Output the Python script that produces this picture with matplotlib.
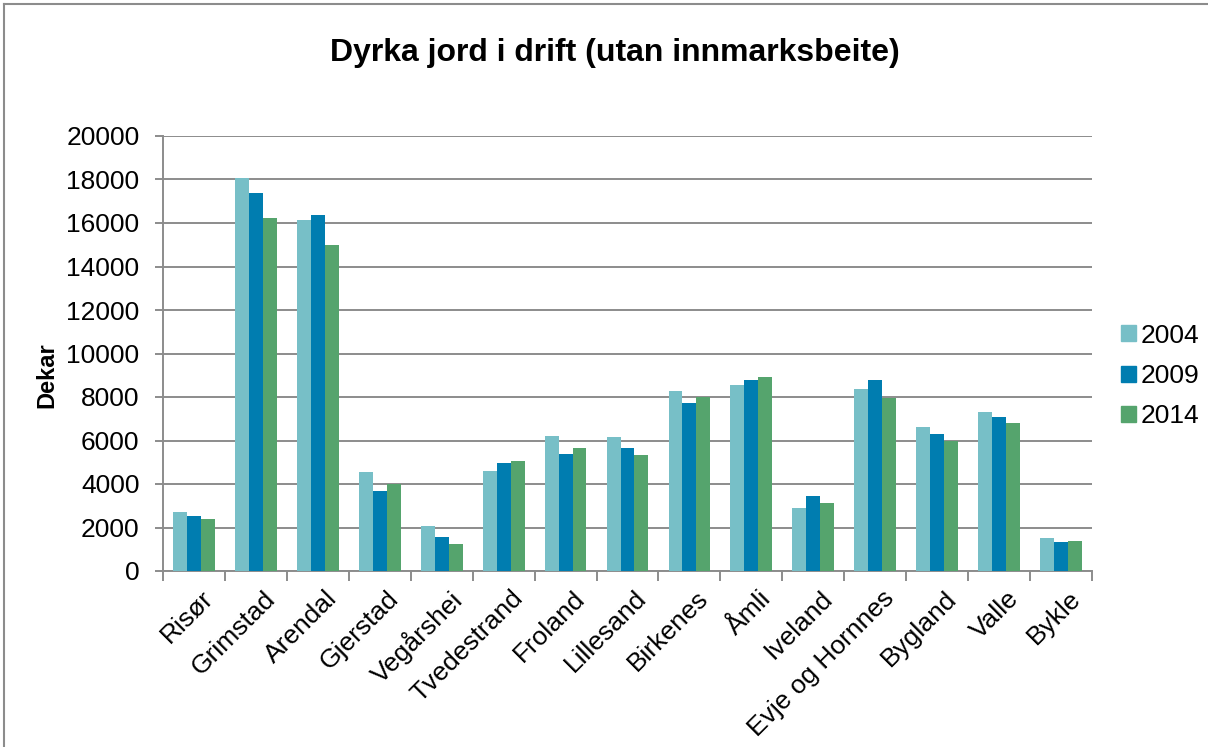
import matplotlib
matplotlib.use("Agg")
import matplotlib.pyplot as plt
import matplotlib.transforms as mtransforms
import numpy as np
from matplotlib.lines import Line2D

plt.rcParams['font.family'] = ['Liberation Sans', 'DejaVu Sans']

categories = ["Risør", "Grimstad", "Arendal", "Gjerstad", "Vegårshei", "Tvedestrand",
              "Froland", "Lillesand", "Birkenes", "Åmli", "Iveland", "Evje og Hornnes",
              "Bygland", "Valle", "Bykle"]
years = ["2004", "2009", "2014"]
v2004 = [2690, 18080, 16160, 4560, 2070, 4610, 6210, 6180, 8290, 8570, 2900, 8360, 6640, 7330, 1510]
v2009 = [2530, 17390, 16370, 3690, 1570, 4960, 5380, 5650, 7740, 8790, 3440, 8760, 6280, 7100, 1320]
v2014 = [2380, 16220, 15010, 4020, 1230, 5070, 5670, 5330, 7990, 8920, 3120, 7960, 5990, 6790, 1380]
colors = ["#77BFC7", "#007DB0", "#55A46D"]

fig = plt.figure(figsize=(12.08, 7.47), dpi=100)
ax = fig.add_axes([163/1208, 1 - 571/747, (1092-163)/1208, (571-136)/747])

x = np.arange(len(categories))
w = 0.225
for i, (vals, c, lab) in enumerate(zip([v2004, v2009, v2014], colors, years)):
    ax.bar(x + (i - 1) * w, vals, width=w, color=c, label=lab, zorder=3)

ax.set_xlim(-0.5, len(categories) - 0.5)
ax.set_ylim(0, 20000)
ax.set_yticks(np.arange(0, 20001, 2000))
ax.yaxis.grid(True, color="#8c8c8c", linewidth=1.4, zorder=0)
ax.set_axisbelow(True)
for s in ["top", "right"]:
    ax.spines[s].set_visible(False)
for s in ["left", "bottom"]:
    ax.spines[s].set_color("#8c8c8c")
    ax.spines[s].set_linewidth(1.4)
ax.tick_params(axis="y", length=6, width=1.4, color="#8c8c8c", labelsize=19, pad=11)
ax.set_xticks(np.arange(-0.5, len(categories)), minor=False)
ax.set_xticklabels([])
ax.set_xticks(x, minor=True)
ax.set_xticklabels(categories, minor=True, rotation=45, ha="right", rotation_mode="anchor", fontsize=19)
ax.tick_params(axis="x", which="major", length=7, width=1.4, color="#8c8c8c")
ax.tick_params(axis="x", which="minor", length=0, pad=11)
offset = mtransforms.ScaledTranslation(7/100, 0, fig.dpi_scale_trans)
for lbl in ax.xaxis.get_minorticklabels():
    lbl.set_transform(lbl.get_transform() + offset)

ax.set_ylabel("Dekar", fontsize=17, fontweight="bold")
ax.yaxis.set_label_coords((58 - 163) / 929, (571 - 375) / 435)
fig.text(615 / 1208, 1 - 53/747, "Dyrka jord i drift (utan innmarksbeite)",
         ha="center", va="center", fontsize=23, fontweight="bold")

handles = [plt.Rectangle((0, 0), 1, 1, color=c) for c in colors]
fig.legend(handles, years, loc="center left", bbox_to_anchor=(1121/1208, 1 - 376/747),
           frameon=False, fontsize=19, handlelength=0.55, handleheight=0.55,
           handletextpad=0.2, labelspacing=0.62, borderaxespad=0, borderpad=0)

# outer chart border
fig.add_artist(Line2D([4/1208, 4/1208], [0, 1 - 4/747], transform=fig.transFigure, color="#8c8c8c", lw=1.5))
fig.add_artist(Line2D([4/1208, 1], [1 - 4/747, 1 - 4/747], transform=fig.transFigure, color="#8c8c8c", lw=1.5))

fig.savefig("out.png", dpi=100)
